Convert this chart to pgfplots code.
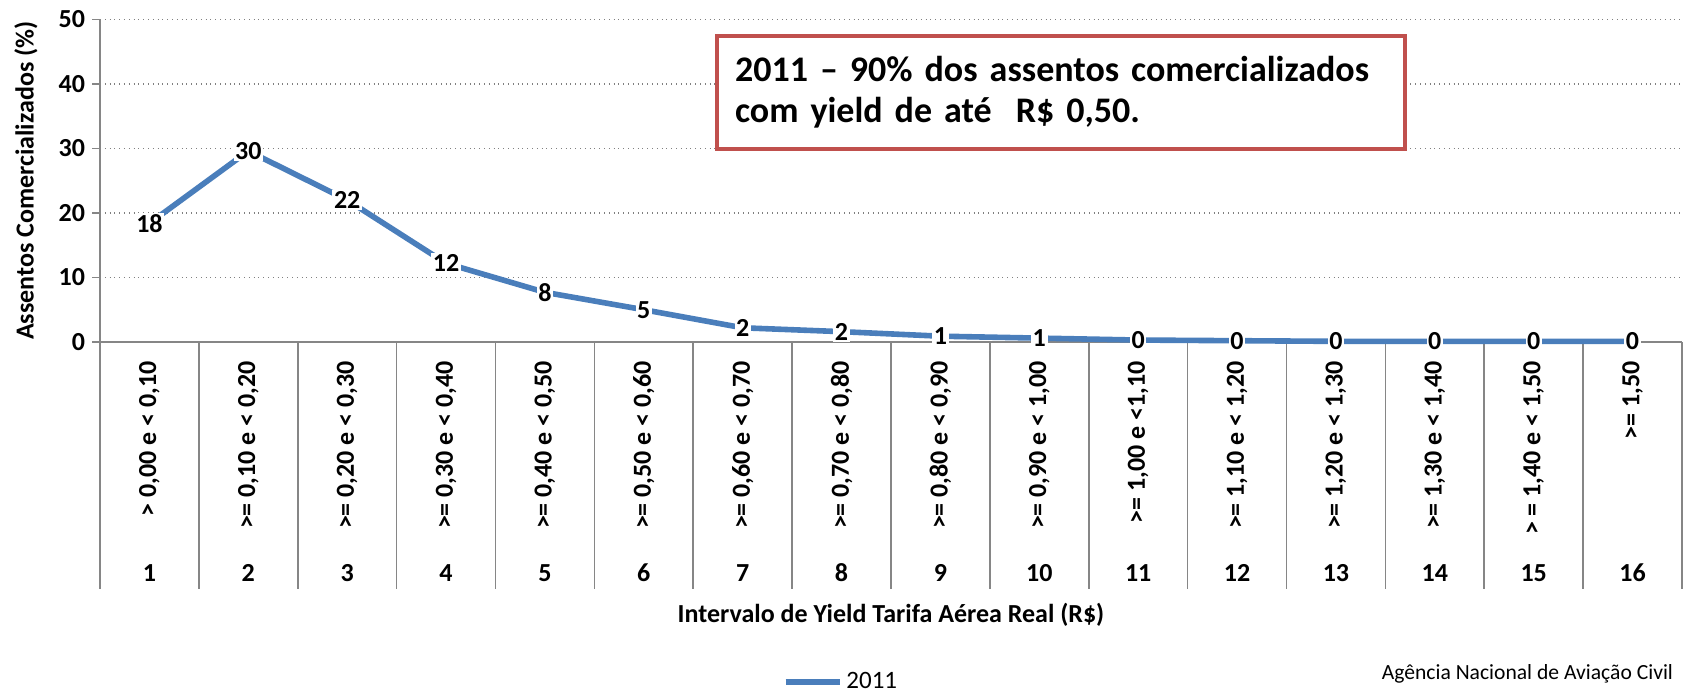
\documentclass[border=0pt]{standalone}
\usepackage{fontspec}
\setmainfont{Carlito}
\usepackage{pgfplots}
\pgfplotsset{compat=1.18}
\definecolor{lineblue}{HTML}{4A7EBB}
\definecolor{boxred}{HTML}{C0504D}
\definecolor{axgray}{HTML}{868686}
\newcommand{\lbl}{\fontsize{13}{15}\selectfont\bfseries}
\begin{document}
\begin{tikzpicture}
\useasboundingbox (0,0) rectangle (843pt,347pt);
\begin{axis}[
  at={(50pt,176pt)}, anchor=south west,
  scale only axis, width=791pt, height=161.3pt,
  xmin=0.5, xmax=16.5, ymin=0, ymax=50,
  clip=false,
  axis lines=left,
  axis line style={-, draw=axgray, line width=0.8pt},
  tick align=outside,
  ytick={0,10,...,50},
  yticklabel style={font=\lbl},
  xtick={1,...,16},
  xticklabels={{> 0,00 e < 0,10},{>= 0,10 e < 0,20},{>= 0,20 e < 0,30},{>= 0,30 e < 0,40},{>= 0,40 e < 0,50},{>= 0,50 e < 0,60},{>= 0,60 e < 0,70},{>= 0,70 e < 0,80},{>= 0,80 e < 0,90},{>= 0,90 e < 1,00},{>= 1,00 e <1,10},{>= 1,10 e < 1,20},{>= 1,20 e < 1,30},{>= 1,30 e < 1,40},{> = 1,40 e < 1,50},{>= 1,50}},
  xticklabel style={rotate=90, anchor=east, font=\lbl},
  xticklabel shift=2pt,
  extra x ticks={1,...,16},
  extra x tick labels={1,2,3,4,5,6,7,8,9,10,11,12,13,14,15,16},
  extra x tick style={xticklabel style={rotate=-90, anchor=center}, xticklabel shift=111.5pt},
  minor xtick={0.5,1.5,...,16.5},
  minor tick length=123.5pt, major tick length=4pt,
  major x tick style={draw=none},
  minor x tick style={draw=axgray, line width=0.8pt},
  y tick style={draw=axgray, line width=0.8pt},
  ymajorgrids, major grid style={dotted, draw=gray, line width=0.8pt},
  /pgf/number format/fixed, /pgf/number format/precision=0,
  /pgf/number format/assume math mode=true,
  nodes near coords,
  every node near coord/.append style={anchor=center, font=\lbl, text=black, fill=white, inner sep=0.8pt},
  xlabel={Intervalo de Yield Tarifa Aérea Real (R\$)},
  every axis x label/.style={at={(axis description cs:0.5,0)}, yshift=-136.5pt, anchor=center, font=\lbl},
  ylabel={Assentos Comercializados (\%)},
  every axis y label/.style={at={(axis description cs:-0.0468,0.5)}, rotate=90, anchor=center, font=\lbl},
  legend style={at={(0.469,-1.054)}, anchor=center, draw=none, fill=none, font=\fontsize{12.5}{14}\selectfont},
  legend image code/.code={\draw[#1] (0pt,0pt) -- (27pt,0pt);},
]
\addplot[color=lineblue, line width=2.8pt, mark=none] coordinates {(1,18.4)(2,29.6)(3,22.0)(4,12.2)(5,7.7)(6,5.0)(7,2.2)(8,1.6)(9,0.9)(10,0.6)(11,0.3)(12,0.2)(13,0.1)(14,0.1)(15,0.1)(16,0.1)};
\addlegendentry{2011}
\end{axis}
\node[draw=boxred, line width=2pt, fill=white, anchor=north west, minimum width=344pt, minimum height=56.5pt, text width=326pt, inner xsep=9pt, align=left, font=\fontsize{18}{20.5}\selectfont\bfseries] at (357.5pt,330pt) {2011 – 90\% dos assentos comercializados\\com yield de até\ \ R\$ 0,50.};
\node[anchor=east, font=\fontsize{10.8}{12}\selectfont] at (840pt,10pt) {Agência Nacional de Aviação Civil};
\end{tikzpicture}
\end{document}
